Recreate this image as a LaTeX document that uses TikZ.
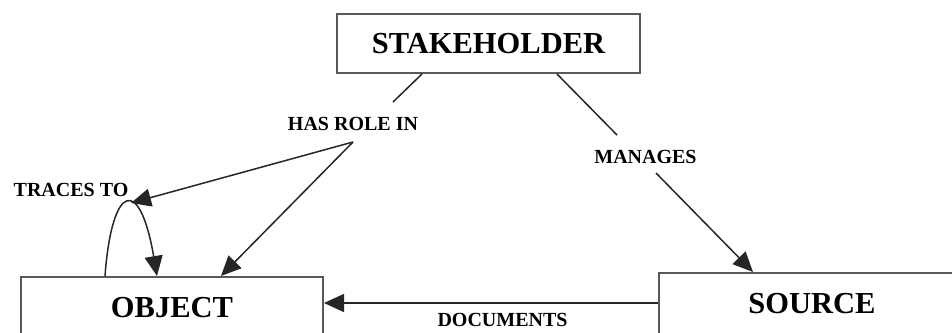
\documentclass[tikz,border=0pt]{standalone}
\usepackage{fontspec}
\setmainfont{Liberation Serif}
\usetikzlibrary{arrows.meta,calc}
\begin{document}
\begin{tikzpicture}[x=1pt,y=-1pt,
  entity/.style={draw=black!65,line width=2pt,fill=white,inner sep=0pt,
    font=\fontsize{30.5}{32}\selectfont\bfseries},
  rel/.style={inner sep=0pt,font=\fontsize{20}{22}\selectfont\bfseries},
  link/.style={draw=black!85,line width=1.5pt},
  tip/.style={link,-{Triangle[length=20pt,width=18pt]}}]
\useasboundingbox (0,0) rectangle (952,332);
\clip (0,0) rectangle (952,332);

% entities
\node[entity,minimum width=303pt,minimum height=59pt] (stake) at (488.5,43.5) {STAKEHOLDER};
\node[entity,minimum width=302pt,minimum height=61pt] (obj) at (172,307.5) {OBJECT};
\node[entity,minimum width=306pt,minimum height=61pt] (src) at (812,303.5) {SOURCE};

% relationship labels
\node[rel] (hasrole) at (353,124) {HAS ROLE IN};
\node[rel] (manages) at (645.5,156.5) {MANAGES};
\node[rel] (traces) at (71,190) {TRACES TO};
\node[rel] (documents) at (502.5,320) {DOCUMENTS};

% connector ends
\coordinate (hr-in) at (393,102);
\coordinate (hr-out) at (353,142);
\coordinate (mg-in) at (617,135);
\coordinate (mg-out) at (656,173);
\coordinate (loop-top) at (131,203);

% HAS ROLE IN
\draw[link] (stake.south -| 422,0) -- (hr-in);
\draw[tip] (hr-out) -- (loop-top);
\draw[tip] (hr-out) -- (obj.north -| 221,0);

% MANAGES
\draw[link] (stake.south -| 557,0) -- (mg-in);
\draw[tip] (mg-out) -- (src.north -| 753,0);

% DOCUMENTS
\draw[tip] (src.west |- 0,303) -- (obj.east |- 0,303);

% TRACES TO loop
\draw[tip] (obj.north -| 105,0) .. controls (112,182) and (140,176) .. (obj.north -| 157,0);
\end{tikzpicture}
\end{document}
